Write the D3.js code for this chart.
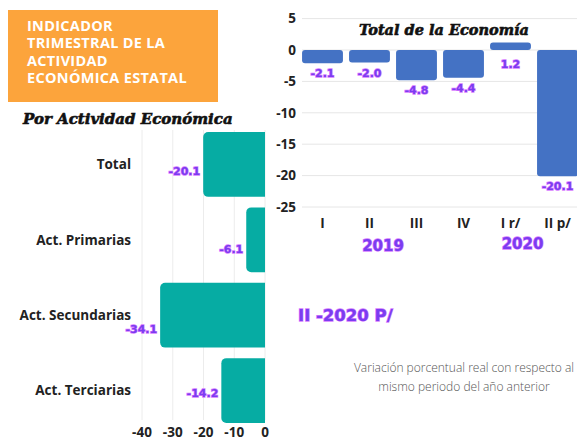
<!DOCTYPE html>
<html>
<head>
<meta charset="utf-8">
<script src="https://cdn.jsdelivr.net/npm/d3@7"></script>
<style>
  body { margin: 0; background: #fff; }
  svg { display: block; }
</style>
</head>
<body>
<div id="chart"></div>
<script>
// data
var quarters = ['I', 'II', 'III', 'IV', 'I r/', 'II p/'];
var totalValues = [-2.1, -2.0, -4.8, -4.4, 1.2, -20.1];
var yTicks = [5, 0, -5, -10, -15, -20, -25];
var years = ['2019', '2020'];

var sectors = ['Total', 'Act. Primarias', 'Act. Secundarias', 'Act. Terciarias'];
var sectorValues = [-20.1, -6.1, -34.1, -14.2];
var xTicks = [-40, -30, -20, -10, 0];

var titleLines = ['INDICADOR', 'TRIMESTRAL DE LA', 'ACTIVIDAD', 'ECONÓMICA ESTATAL'];
var noteLines = ['Variación porcentual real con respecto al', 'mismo periodo del año anterior'];

var W = 577, H = 440;
var purple = '#7b3cf0', glow = '#d77bff';
var labelFont = 'Open Sans, sans-serif';

var svg = d3.select('#chart').append('svg')
  .attr('width', W).attr('height', H);

function purpleText(sel) {
  return sel.attr('fill', purple)
    .attr('stroke', glow)
    .attr('stroke-width', 1.3)
    .attr('paint-order', 'stroke')
    .attr('font-family', 'DejaVu Sans, sans-serif')
    .attr('font-weight', 'bold');
}

function heavyTitle(sel) {
  return sel.attr('font-family', 'DejaVu Serif, serif')
    .attr('font-weight', 'bold').attr('font-style', 'italic')
    .attr('fill', '#111').attr('stroke', '#111').attr('stroke-width', 0.6);
}

// ---- right chart: Total de la Economía ----
var y = d3.scaleLinear().domain([-25, 5]).range([207, 18.6]);
var x = d3.scaleBand().domain(quarters).range([299, 581]).paddingInner(0.13).paddingOuter(0.065);

var right = svg.append('g');
right.selectAll('line.grid').data(yTicks).enter().append('line')
  .attr('class', 'grid')
  .attr('x1', 302).attr('x2', W)
  .attr('y1', function(d) { return y(d); })
  .attr('y2', function(d) { return y(d); })
  .attr('stroke', '#e6e6e6').attr('stroke-width', 1);

right.selectAll('text.ytick').data(yTicks).enter().append('text')
  .attr('class', 'ytick')
  .attr('x', 296)
  .attr('y', function(d) { return y(d); })
  .attr('dy', '0.35em')
  .attr('text-anchor', 'end')
  .attr('font-family', labelFont).attr('font-weight', 'bold')
  .attr('font-size', 13.5).attr('fill', '#222')
  .text(function(d) { return d; });

right.selectAll('rect.bar').data(totalValues).enter().append('rect')
  .attr('class', 'bar')
  .attr('x', function(d, i) { return x(quarters[i]); })
  .attr('width', x.bandwidth())
  .attr('y', function(d) { return Math.min(y(d), y(0)); })
  .attr('height', function(d) { return Math.abs(y(d) - y(0)); })
  .attr('rx', 3)
  .attr('fill', '#4472c4');

purpleText(right.selectAll('text.val').data(totalValues).enter().append('text')
  .attr('class', 'val')
  .attr('x', function(d, i) { return x(quarters[i]) + x.bandwidth() / 2; })
  .attr('y', function(d) { return d < 0 ? y(d) + 14 : y(0) + 18; })
  .attr('text-anchor', 'middle')
  .attr('font-size', 11))
  .text(function(d) { return d.toFixed(1); });

right.selectAll('text.xtick').data(quarters).enter().append('text')
  .attr('class', 'xtick')
  .attr('x', function(d) { return x(d) + x.bandwidth() / 2; })
  .attr('y', 228)
  .attr('text-anchor', 'middle')
  .attr('font-family', labelFont).attr('font-weight', 'bold')
  .attr('font-size', 13.5).attr('fill', '#222')
  .text(function(d) { return d; });

var yearX = [(x('II') + x('III') + x.bandwidth()) / 2 - 10, x('I r/') + x.bandwidth() / 2 + 12];
purpleText(right.selectAll('text.year').data(years).enter().append('text')
  .attr('class', 'year')
  .attr('x', function(d, i) { return yearX[i]; })
  .attr('y', function(d, i) { return i === 0 ? 251 : 249; })
  .attr('text-anchor', 'middle')
  .attr('font-size', 15))
  .text(function(d) { return d; });

heavyTitle(right.append('text')
  .attr('x', 444).attr('y', 35)
  .attr('text-anchor', 'middle')
  .attr('font-size', 14.5))
  .text('Total de la Economía');

// ---- left chart: Por Actividad Económica ----
var hx = d3.scaleLinear().domain([-40, 0]).range([142, 265]);
var hy = d3.scaleBand().domain(sectors).range([129, 426]).paddingInner(0.14).paddingOuter(0.04);

var left = svg.append('g');
left.append('clipPath').attr('id', 'leftClip')
  .append('rect').attr('x', 0).attr('y', 0).attr('width', hx(0)).attr('height', H);

left.selectAll('line.grid').data(xTicks).enter().append('line')
  .attr('class', 'grid')
  .attr('x1', function(d) { return hx(d); })
  .attr('x2', function(d) { return hx(d); })
  .attr('y1', 130).attr('y2', 420)
  .attr('stroke', '#ececec').attr('stroke-width', 1);

left.selectAll('rect.bar').data(sectorValues).enter().append('rect')
  .attr('class', 'bar')
  .attr('clip-path', 'url(#leftClip)')
  .attr('x', function(d) { return hx(d); })
  .attr('width', function(d) { return hx(0) - hx(d) + 8; })
  .attr('y', function(d, i) { return hy(sectors[i]); })
  .attr('height', hy.bandwidth())
  .attr('rx', 5)
  .attr('fill', '#06aca3');

left.selectAll('text.cat').data(sectors).enter().append('text')
  .attr('class', 'cat')
  .attr('x', 131)
  .attr('y', function(d) { return hy(d) + hy.bandwidth() / 2; })
  .attr('dy', '0.35em')
  .attr('text-anchor', 'end')
  .attr('font-family', labelFont).attr('font-weight', 'bold')
  .attr('font-size', 13.5).attr('fill', '#222')
  .text(function(d) { return d; });

var valDy = [7, 9, 14, 3];
purpleText(left.selectAll('text.val').data(sectorValues).enter().append('text')
  .attr('class', 'val')
  .attr('x', function(d) { return hx(d) - 3; })
  .attr('y', function(d, i) { return hy(sectors[i]) + hy.bandwidth() / 2 + valDy[i]; })
  .attr('dy', '0.35em')
  .attr('text-anchor', 'end')
  .attr('font-size', 11))
  .text(function(d) { return d.toFixed(1); });

left.selectAll('text.xtick').data(xTicks).enter().append('text')
  .attr('class', 'xtick')
  .attr('x', function(d) { return hx(d); })
  .attr('y', 437)
  .attr('text-anchor', 'middle')
  .attr('font-family', labelFont).attr('font-weight', 'bold')
  .attr('font-size', 13.5).attr('fill', '#222')
  .text(function(d) { return d; });

heavyTitle(left.append('text')
  .attr('x', 23).attr('y', 124)
  .attr('font-size', 15))
  .text('Por Actividad Económica');

// ---- header box ----
svg.append('rect')
  .attr('x', 8).attr('y', 10).attr('width', 210).attr('height', 92)
  .attr('fill', '#fca43c');
svg.selectAll('text.head').data(titleLines).enter().append('text')
  .attr('class', 'head')
  .attr('x', 27)
  .attr('y', function(d, i) { return 31 + i * 17.3; })
  .attr('font-family', labelFont).attr('font-weight', 'bold')
  .attr('font-size', 14.5).attr('letter-spacing', 0.3).attr('fill', '#fff')
  .text(function(d) { return d; });

// ---- period label and note ----
purpleText(svg.append('text')
  .attr('x', 298).attr('y', 321)
  .attr('font-size', 16.5))
  .text('II -2020 P/');

svg.selectAll('text.note').data(noteLines).enter().append('text')
  .attr('class', 'note')
  .attr('x', 464)
  .attr('y', function(d, i) { return 372 + i * 19; })
  .attr('text-anchor', 'middle')
  .attr('font-family', labelFont).attr('font-weight', 300)
  .attr('font-size', 12).attr('fill', '#555')
  .text(function(d) { return d; });
</script>
</body>
</html>
